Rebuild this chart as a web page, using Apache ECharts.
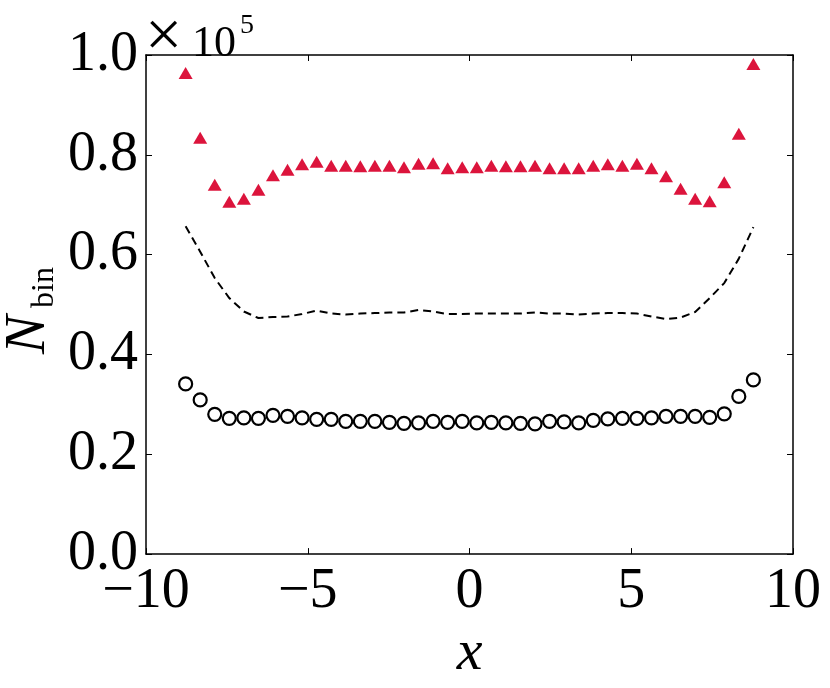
<!DOCTYPE html>
<html>
<head>
<meta charset="utf-8">
<script src="https://cdn.jsdelivr.net/npm/echarts@6/dist/echarts.min.js"></script>
<style>
  html, body { margin: 0; padding: 0; background: #fff; }
  #chart { width: 830px; height: 688px; }
</style>
</head>
<body>
<div id="chart"></div>
<script>
// bin centres along x
const binCenters = [-8.775, -8.325, -7.875, -7.425, -6.975, -6.525, -6.075, -5.625, -5.175, -4.725,
  -4.275, -3.825, -3.375, -2.925, -2.475, -2.025, -1.575, -1.125, -0.675, -0.225,
  0.225, 0.675, 1.125, 1.575, 2.025, 2.475, 2.925, 3.375, 3.825, 4.275,
  4.725, 5.175, 5.625, 6.075, 6.525, 6.975, 7.425, 7.875, 8.325, 8.775]

// counts, in units of 1e5
const triangleCounts = [0.964, 0.834, 0.740, 0.706, 0.712, 0.730, 0.759, 0.770, 0.781, 0.786,
  0.778, 0.778, 0.777, 0.778, 0.778, 0.775, 0.782, 0.783, 0.773, 0.775,
  0.775, 0.778, 0.777, 0.777, 0.778, 0.773, 0.773, 0.773, 0.778, 0.781,
  0.778, 0.782, 0.773, 0.757, 0.732, 0.712, 0.707, 0.745, 0.842, 0.982]

const circleCounts = [0.341, 0.309, 0.280, 0.272, 0.273, 0.272, 0.278, 0.276, 0.273, 0.270,
  0.270, 0.266, 0.266, 0.266, 0.264, 0.262, 0.263, 0.266, 0.264, 0.266,
  0.263, 0.264, 0.263, 0.262, 0.261, 0.266, 0.265, 0.263, 0.268, 0.271,
  0.272, 0.272, 0.273, 0.276, 0.276, 0.276, 0.274, 0.281, 0.316, 0.349]

const dashedCounts = [0.657, 0.606, 0.553, 0.513, 0.486, 0.473, 0.475, 0.476, 0.481, 0.488,
  0.482, 0.480, 0.482, 0.483, 0.484, 0.484, 0.489, 0.486, 0.481, 0.481,
  0.482, 0.482, 0.482, 0.482, 0.484, 0.482, 0.482, 0.480, 0.482, 0.483,
  0.483, 0.482, 0.476, 0.471, 0.474, 0.485, 0.513, 0.543, 0.592, 0.655]

const xTicks = { min: -10, max: 10, interval: 5 }
const yTicks = { min: 0, max: 1.0, interval: 0.2 }

const FONT = "'Liberation Serif', 'DejaVu Serif', serif"

const pairs = (ys) => binCenters.map((x, i) => [x, ys[i]])

const frameAxis = {
  axisLine: { show: true, onZero: false, lineStyle: { color: '#000', width: 1.5 } },
  axisTick: { show: true, inside: true, length: 6, lineStyle: { color: '#000', width: 1 } },
  splitLine: { show: false },
}

const txt = (text, x, y, size, italic) => ({
  type: 'text', x, y,
  style: {
    text, fill: '#000', fontFamily: FONT, fontSize: size,
    fontStyle: italic ? 'italic' : 'normal',
    align: 'left', verticalAlign: 'bottom',
  },
})

const chart = echarts.init(document.getElementById('chart'))

const option = {
  animation: false,
  backgroundColor: '#fff',
  grid: { left: 146, right: 37, top: 55, bottom: 130 },
  xAxis: [
    {
      type: 'value', position: 'bottom', ...xTicks, ...frameAxis,
      name: 'x', nameLocation: 'middle', nameGap: 60,
      nameTextStyle: { fontFamily: FONT, fontStyle: 'italic', fontSize: 58, color: '#000' },
      axisLabel: {
        fontFamily: FONT, fontSize: 56, color: '#000', margin: 10,
        showMinLabel: true, showMaxLabel: true,
        formatter: (v) => (v < 0 ? '\u2212' + Math.abs(v) : String(v)),
      },
    },
    { type: 'value', position: 'top', ...xTicks, ...frameAxis, axisLabel: { show: false } },
  ],
  yAxis: [
    {
      type: 'value', position: 'left', ...yTicks, ...frameAxis,
      axisLabel: {
        fontFamily: FONT, fontSize: 56, color: '#000', margin: 8,
        showMinLabel: true, showMaxLabel: true,
        formatter: (v) => v.toFixed(1),
      },
    },
    { type: 'value', position: 'right', ...yTicks, ...frameAxis, axisLabel: { show: false } },
  ],
  graphic: [
    {
      type: 'group', x: 45, y: 354, rotation: Math.PI / 2,
      children: [txt('N', 0, 13, 58, true), txt('bin', 46, 16, 32, false)],
    },
    txt('\u00d7', 145, 72, 66, false),
    txt('10', 192, 66, 44, false),
    txt('5', 240, 40, 28, false),
  ],
  series: [
    {
      type: 'line', data: pairs(dashedCounts), showSymbol: false, symbol: 'none',
      lineStyle: { color: '#000', width: 2, type: [8, 5], opacity: 1 },
      z: 2,
    },
    {
      type: 'scatter', data: pairs(circleCounts), symbol: 'circle', symbolSize: 13,
      itemStyle: { color: 'rgba(255,255,255,0)', borderColor: '#000', borderWidth: 2.2, opacity: 1 },
      z: 3,
    },
    {
      type: 'scatter', data: pairs(triangleCounts), symbol: 'triangle', symbolSize: [14, 12],
      itemStyle: { color: '#dc143c', opacity: 1 },
      z: 4,
    },
  ],
}

chart.setOption(option)
</script>
</body>
</html>
